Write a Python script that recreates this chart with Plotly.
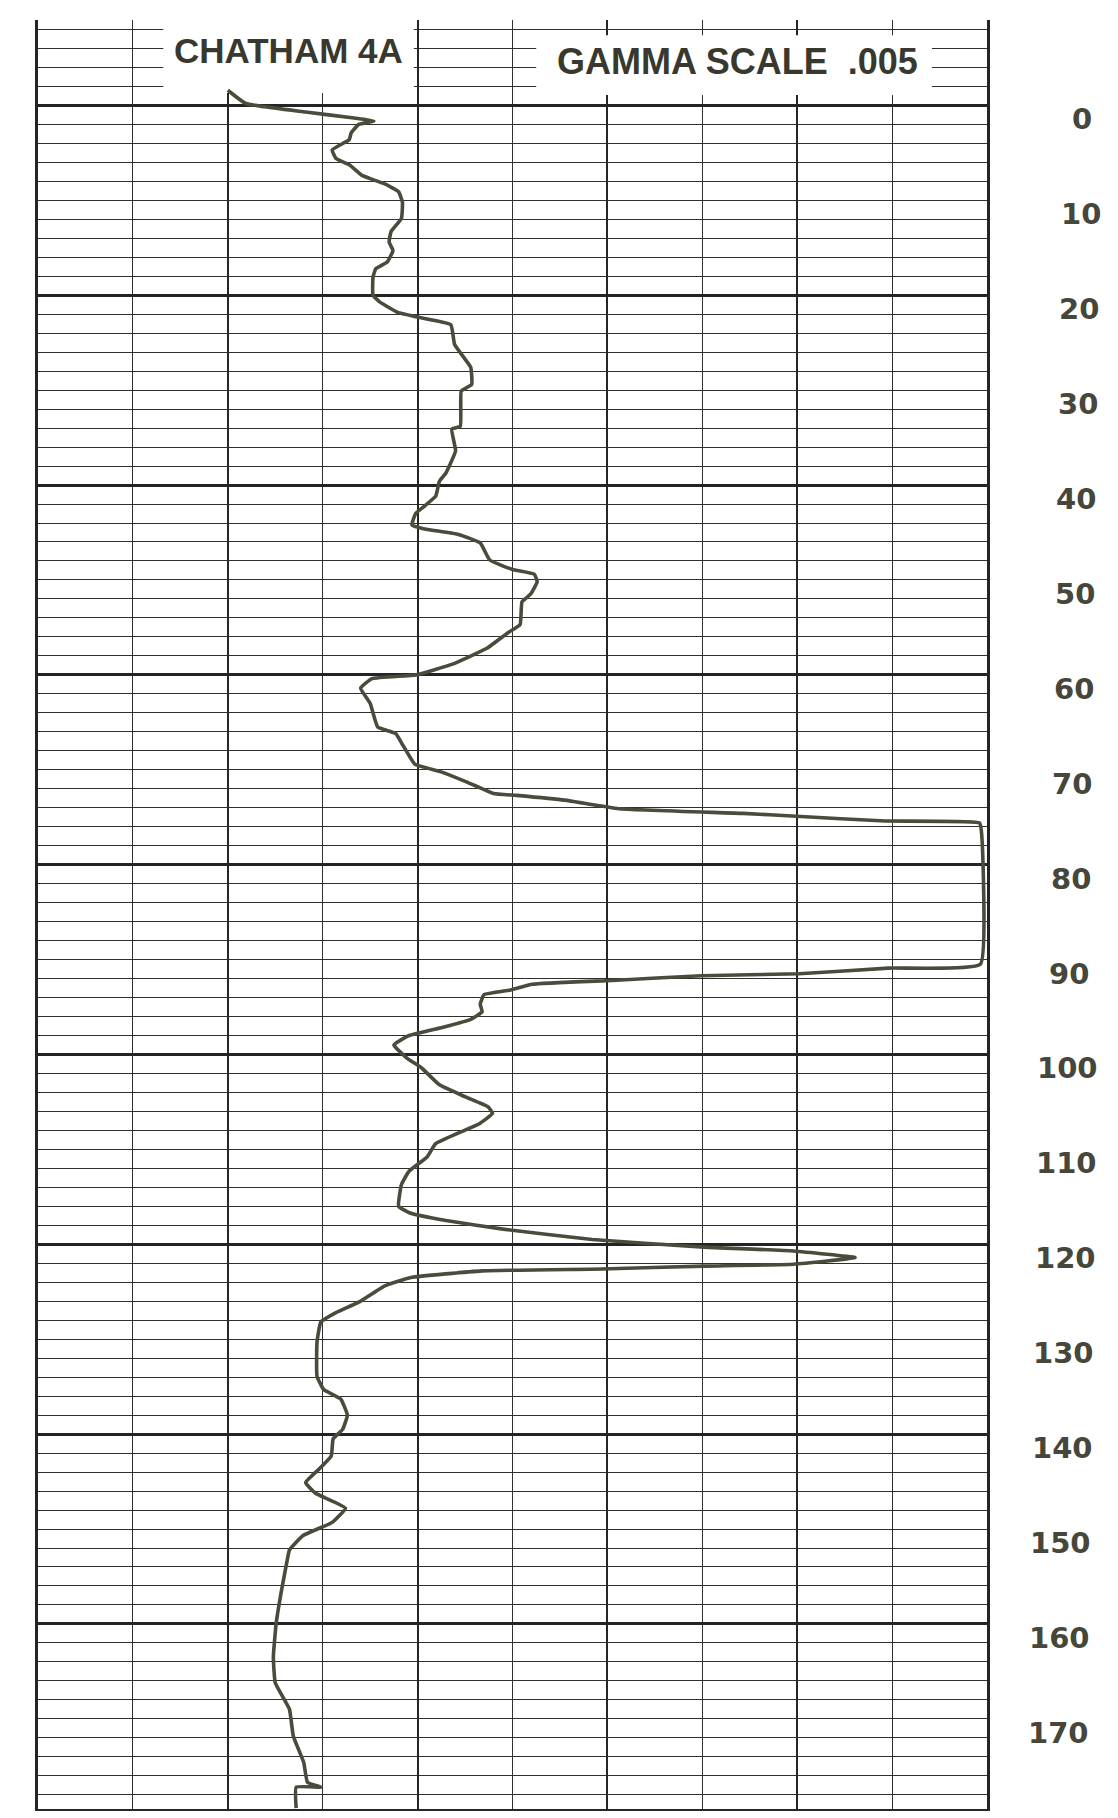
import plotly.graph_objects as go

# ---- data (gamma in chart divisions, depth in feet) ----
depth = [-1.6, -0.2, 0.7, 1.3, 1.65, 2.0, 2.9, 3.6, 4.7, 5.6, 6.25, 7.4, 8.3, 9.1, 10.2,
         11.9, 13.3, 14.4, 15.3, 16.5, 17.2, 18.1, 20.0, 20.7, 21.8, 22.3, 23.1, 25.2,
         26.6, 27.6, 29.4, 30.1, 33.8, 34.1, 36.4, 38.7, 39.6, 41.2, 43.0, 44.2, 44.6,
         45.2, 46.1, 47.9, 48.9, 49.4, 50.2, 51.5, 52.3, 54.7, 55.5, 57.2, 58.9, 60.0,
         60.4, 61.4, 63.0, 65.5, 66.2, 67.5, 69.4, 70.2, 71.3, 72.5, 72.7, 73.2, 74.1,
         74.6, 74.9, 75.4, 75.6, 76.4, 90.5, 90.9, 91.5, 91.7, 92.2, 92.6, 93.2, 93.7,
         94.7, 95.5, 96.3, 97.1, 98.0, 99.0, 100.4, 101.4, 103.2, 104.5, 105.5, 106.2,
         107.3, 108.1, 109.4, 110.8, 112.3, 113.7, 116.0, 116.7, 117.5, 118.4, 119.5,
         120.3, 120.7, 121.4, 122.1, 122.3, 122.6, 122.8, 123.5, 124.4, 126.1, 127.2,
         128.2, 130.3, 133.9, 135.3, 136.3, 138.0, 139.5, 140.5, 142.3, 143.7, 145.1,
         146.2, 147.8, 149.3, 150.7, 152.2, 153.6, 156.8, 159.9, 163.5, 166.2, 169.0,
         171.8, 174.6, 176.7, 177.2, 177.2, 179.4]
gamma = [2.00, 2.19, 2.82, 3.31, 3.54, 3.38, 3.30, 3.28, 3.10, 3.14, 3.28, 3.42, 3.66, 3.80, 3.84,
         3.83, 3.72, 3.70, 3.74, 3.68, 3.56, 3.53, 3.53, 3.60, 3.79, 4.00, 4.35, 4.39,
         4.49, 4.56, 4.57, 4.46, 4.45, 4.36, 4.40, 4.30, 4.23, 4.19, 3.98, 3.94, 4.06,
         4.43, 4.66, 4.76, 5.00, 5.23, 5.26, 5.19, 5.10, 5.08, 4.96, 4.73, 4.36, 3.98,
         3.52, 3.40, 3.50, 3.58, 3.77, 3.85, 3.97, 4.24, 4.52, 4.80, 5.04, 5.55, 6.12,
         7.43, 7.99, 8.93, 9.92, 9.94, 9.93, 8.96, 8.02, 6.99, 6.05, 5.21, 4.98, 4.70,
         4.66, 4.68, 4.56, 4.28, 3.91, 3.75, 3.89, 4.04, 4.23, 4.51, 4.74, 4.79,
         4.65, 4.47, 4.19, 4.10, 3.91, 3.83, 3.80, 3.92, 4.30, 4.90, 5.84,
         7.02, 7.96, 8.61, 7.96, 7.02, 5.94, 4.68, 3.93, 3.65, 3.38, 3.14,
         2.98, 2.94, 2.94, 3.01, 3.19, 3.26, 3.21, 3.11, 3.09, 2.96, 2.82,
         2.92, 3.24, 3.10, 2.79, 2.65, 2.62, 2.56, 2.51, 2.48, 2.50, 2.65,
         2.69, 2.80, 2.84, 2.98, 2.72, 2.72]

depth_ticks = [0, 10, 20, 30, 40, 50, 60, 70, 80, 90, 100, 110, 120, 130, 140, 150, 160, 170, 180]
depth_labels = ["0", "10", "20", "30", "40", "50", "60", "70", "80", "90", "100", "110",
                "120", "130", "140", "150", "160", "170", "180"]

title_left = "CHATHAM 4A"
title_right = "GAMMA SCALE&nbsp; .005"

Y_TOP, Y_BOT = -9, 179.5

fig = go.Figure()
fig.add_trace(go.Scatter(
    x=gamma, y=depth, mode="lines",
    line=dict(color="#4b4b3b", width=3.6, shape="spline", smoothing=0.35),
    hoverinfo="skip", showlegend=False,
))

fig.update_layout(
    width=1118, height=1818,
    margin=dict(l=30, r=139, t=12, b=17),
    paper_bgcolor="white", plot_bgcolor="white",
    showlegend=False,
)
fig.update_xaxes(
    range=[0, 10], tick0=0, dtick=2,
    showgrid=True, gridcolor="#262626", gridwidth=2.4,
    minor=dict(tick0=0, dtick=1, showgrid=True, gridcolor="#303030", gridwidth=1.4),
    showticklabels=False, ticks="", zeroline=False,
    showline=True, linecolor="#262626", linewidth=2.4, mirror=False,
)
fig.update_yaxes(
    range=[Y_BOT, Y_TOP], tick0=0, dtick=20,
    showgrid=True, gridcolor="#242424", gridwidth=3.2,
    minor=dict(tick0=0, dtick=2, showgrid=True, gridcolor="#2e2e2e", gridwidth=1.3),
    showticklabels=False, ticks="", zeroline=False,
    showline=True, mirror=True, linecolor="#242424", linewidth=2.6,
)

# white label patches of the header
fig.add_shape(type="rect", xref="x", yref="y", x0=1.32, x1=3.96, y0=-9, y1=-1.3,
              fillcolor="white", line=dict(width=0), layer="between")
fig.add_shape(type="rect", xref="x", yref="y", x0=5.25, x1=9.42, y0=-7.4, y1=-1.1,
              fillcolor="white", line=dict(width=0), layer="between")

hdr_font = dict(family="Liberation Sans", size=35, color="#38382f", weight="bold")
fig.add_annotation(text=title_left, xref="x", yref="y", x=2.64, y=-5.8,
                   showarrow=False, font=hdr_font, xanchor="center", yanchor="middle")
fig.add_annotation(text=title_right, xref="x", yref="y", x=7.37, y=-4.6,
                   showarrow=False, font=dict(hdr_font, size=36),
                   xanchor="center", yanchor="middle")

# depth labels on the right
lab_font = dict(family="DejaVu Sans", size=29, color="#46463a", weight="bold")
for v, lab in zip(depth_ticks, depth_labels):
    xp = 1.100 - 0.025 * v / 170.0
    if v <= Y_BOT:
        fig.add_annotation(text=lab, xref="paper", yref="y", x=xp, y=v, yshift=-14,
                           showarrow=False, font=lab_font, xanchor="center", yanchor="middle")
    else:
        fig.add_annotation(text=lab, xref="paper", yref="paper", x=xp, y=0, yshift=-20,
                           showarrow=False, font=lab_font, xanchor="center", yanchor="middle")

fig.write_html("out.html")
